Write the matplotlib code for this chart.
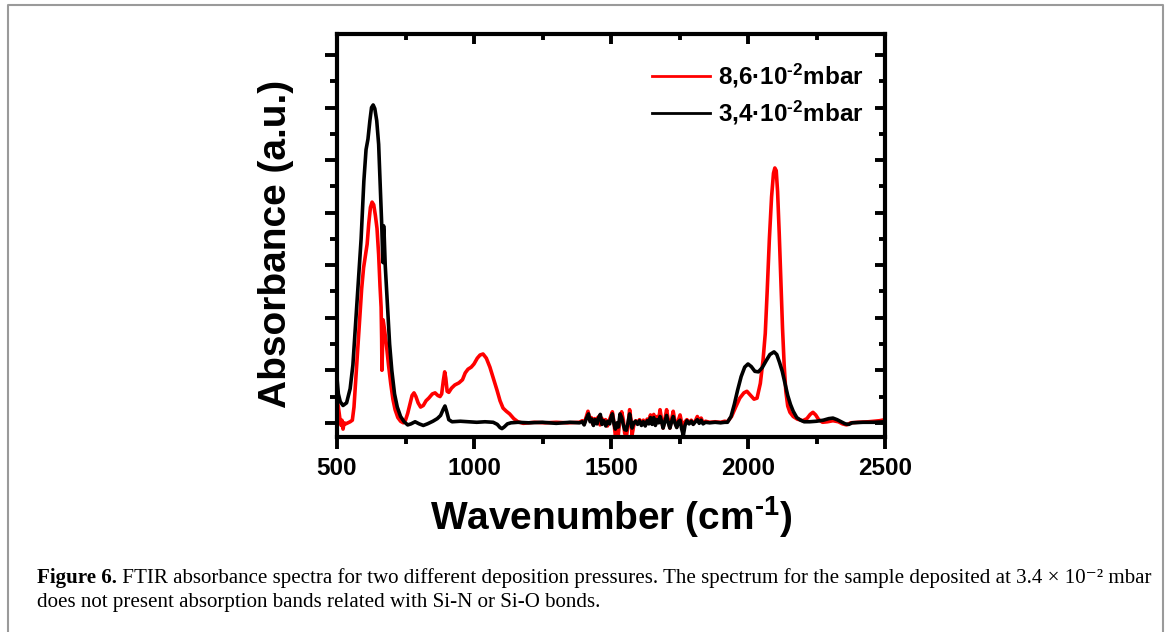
import matplotlib
matplotlib.use("Agg")
import matplotlib.pyplot as plt
from matplotlib.ticker import MultipleLocator, NullFormatter
from matplotlib.lines import Line2D

plt.rcParams['mathtext.fontset'] = 'custom'
plt.rcParams['mathtext.rm'] = 'Liberation Sans:bold'
plt.rcParams['mathtext.bf'] = 'Liberation Sans:bold'
plt.rcParams['mathtext.it'] = 'Liberation Sans:bold'
plt.rcParams['mathtext.sf'] = 'Liberation Sans:bold'

# ---------------- data ----------------
red_label = r"8,6·10$^{\text{-2}}$mbar"
black_label = r"3,4·10$^{\text{-2}}$mbar"

red_x = [500, 505, 510, 515, 518, 522, 526, 532, 540, 548, 556, 562, 568, 575, 583, 590, 597, 604, 610, 616,
         622, 628, 634, 640, 646, 652, 657, 661, 663, 664, 666, 668, 670, 674, 680, 688, 696, 704, 712, 722,
         732, 742, 750, 758, 766, 774, 781, 788, 796, 805, 815, 825, 835, 848, 858, 868, 876, 882, 888, 893,
         897, 902, 908, 918, 930, 945, 958, 968, 978, 990, 1000, 1012, 1022, 1033, 1045, 1058, 1070, 1084, 1095, 1106,
         1118, 1130, 1145, 1160, 1180, 1220, 1260, 1300, 1340, 1385,
         1395, 1402, 1410, 1416, 1422, 1428, 1434, 1440, 1447, 1453, 1460, 1466, 1472, 1480, 1487, 1494, 1500, 1505,
         1511, 1516, 1521, 1526, 1532, 1539, 1545, 1550, 1556, 1562, 1568, 1573, 1577, 1583, 1590, 1597, 1604, 1611,
         1618, 1625, 1632, 1638, 1644, 1650, 1656, 1662, 1668, 1674, 1679, 1685, 1690, 1697, 1703, 1709, 1715, 1721,
         1727, 1733, 1740, 1746, 1752, 1758, 1764, 1770, 1777, 1785, 1793, 1800, 1808, 1815, 1822, 1829, 1836, 1845,
         1860, 1880, 1900, 1915,
         1925, 1940, 1955, 1970, 1985, 1996, 2008, 2022, 2033, 2045, 2055, 2063, 2070, 2078, 2086, 2093, 2098, 2103,
         2108, 2114, 2120, 2126, 2132, 2138, 2145, 2153, 2165, 2180, 2200, 2215, 2227, 2237, 2247, 2258, 2272, 2290,
         2310, 2330, 2345, 2360, 2375, 2400, 2440, 2480, 2500]
red_y = [0.45, 0.30, 0.10, -0.05, 0.05, -0.12, 0.00, -0.02, 0.00, 0.02, 0.05, 0.30, 0.80, 1.35, 2.00, 2.55, 2.95, 3.20, 3.40, 3.80,
         4.10, 4.20, 4.15, 3.95, 3.70, 3.20, 2.60, 2.20, 1.60, 1.00, 1.40, 1.96, 1.90, 1.75, 1.50, 1.10, 0.75, 0.45, 0.25, 0.10,
         0.03, 0.00, 0.05, 0.18, 0.35, 0.52, 0.57, 0.50, 0.38, 0.30, 0.33, 0.42, 0.47, 0.55, 0.57, 0.52, 0.50, 0.55, 0.80, 0.97,
         0.85, 0.60, 0.58, 0.66, 0.72, 0.76, 0.82, 0.95, 1.02, 1.06, 1.12, 1.23, 1.29, 1.31, 1.23, 1.06, 0.86, 0.62, 0.42, 0.28,
         0.22, 0.17, 0.08, 0.02, -0.01, 0.01, 0.00, 0.01, 0.00, 0.01,
         0.04, -0.02, 0.12, 0.22, 0.05, 0.10, -0.03, 0.08, 0.02, 0.11, -0.04, 0.09, 0.00, 0.06, -0.06, 0.05, 0.14, 0.21,
         0.00, -0.25, -0.18, -0.26, 0.05, 0.21, 0.05, -0.20, -0.27, -0.05, 0.25, 0.05, -0.23, -0.05, 0.04, 0.00, 0.06, -0.02,
         0.05, -0.04, 0.07, 0.02, 0.15, 0.00, 0.16, -0.02, 0.12, 0.05, 0.25, 0.05, -0.10, 0.08, 0.25, 0.05, -0.10, 0.06,
         0.22, 0.04, -0.08, 0.05, 0.15, 0.00, -0.12, 0.02, 0.06, 0.00, 0.05, -0.02, 0.04, 0.12, 0.02, 0.09, 0.00, 0.03,
         0.01, 0.02, 0.01, 0.03,
         0.02, 0.12, 0.30, 0.47, 0.57, 0.60, 0.53, 0.45, 0.47, 0.75, 1.20, 1.70, 2.50, 3.50, 4.30, 4.75, 4.85, 4.80,
         4.40, 3.60, 2.70, 1.80, 1.10, 0.60, 0.32, 0.20, 0.12, 0.07, 0.04, 0.08, 0.16, 0.20, 0.15, 0.06, 0.01, 0.02,
         0.04, 0.02, -0.02, -0.04, 0.00, 0.01, 0.02, 0.04, 0.06]

black_x = [500, 505, 512, 522, 535, 548, 558, 568, 578, 588, 598, 606, 613, 620, 626, 632, 638, 645, 652, 658,
           663, 666, 668, 670, 672, 676, 684, 692, 700, 710, 720, 732, 745, 758, 770, 785, 800, 815, 830, 850,
           866, 878, 888, 894, 900, 908, 920, 950, 980, 1010, 1040, 1070, 1085, 1095, 1102, 1110, 1122, 1135, 1160, 1200,
           1250, 1300, 1350, 1385,
           1395, 1402, 1410, 1418, 1424, 1430, 1436, 1442, 1449, 1455, 1461, 1467, 1474, 1481, 1488, 1495, 1500, 1505,
           1511, 1516, 1522, 1527, 1533, 1539, 1545, 1550, 1556, 1562, 1568, 1573, 1577, 1583, 1590, 1597, 1604, 1611,
           1618, 1625, 1632, 1638, 1644, 1650, 1656, 1662, 1668, 1674, 1679, 1685, 1690, 1697, 1703, 1709, 1715, 1721,
           1727, 1733, 1740, 1746, 1752, 1758, 1764, 1770, 1777, 1785, 1793, 1800, 1808, 1815, 1822, 1829, 1836, 1845,
           1860, 1880, 1900, 1915,
           1925, 1938, 1950, 1962, 1975, 1988, 2000, 2012, 2025, 2038, 2052, 2066, 2080, 2095, 2105, 2115, 2125, 2135,
           2145, 2155, 2165, 2178, 2192, 2205, 2225, 2250, 2275, 2295, 2310, 2325, 2340, 2355, 2368, 2380, 2420, 2460, 2500]
black_y = [0.85, 0.55, 0.40, 0.33, 0.38, 0.65, 1.10, 1.90, 2.70, 3.50, 4.60, 5.20, 5.40, 5.75, 6.00, 6.05, 5.98, 5.75, 5.30, 4.50,
           3.80, 3.30, 3.05, 3.75, 3.60, 3.00, 2.25, 1.50, 1.00, 0.55, 0.30, 0.12, 0.02, -0.04, -0.02, 0.02, -0.02, -0.05, -0.02, 0.03,
           0.08, 0.14, 0.26, 0.32, 0.22, 0.06, 0.02, 0.03, 0.02, 0.01, 0.02, 0.01, -0.03, -0.09, -0.11, -0.08, -0.02, 0.00, 0.01, 0.00,
           0.01, -0.01, 0.01, 0.00,
           0.02, -0.04, 0.08, 0.17, 0.02, 0.07, -0.05, 0.06, -0.02, 0.10, 0.16, -0.03, 0.04, -0.06, 0.03, -0.02, 0.10, 0.17,
           -0.02, -0.12, 0.00, -0.08, 0.17, 0.10, -0.04, -0.13, -0.14, 0.00, 0.17, 0.02, -0.10, 0.00, 0.03, -0.03, 0.04, -0.05,
           0.02, -0.06, 0.04, -0.02, 0.10, -0.03, 0.10, -0.05, 0.06, 0.00, 0.12, 0.02, -0.10, 0.03, 0.14, 0.00, -0.10, 0.02,
           0.12, 0.00, -0.09, 0.02, 0.05, -0.12, -0.24, -0.05, 0.04, -0.02, 0.03, -0.03, 0.02, 0.06, -0.01, 0.05, -0.02, 0.01,
           0.00, 0.01, 0.00, 0.01,
           0.01, 0.12, 0.35, 0.62, 0.88, 1.06, 1.12, 1.07, 0.98, 0.97, 1.05, 1.18, 1.30, 1.35, 1.30, 1.15, 0.98, 0.75,
           0.52, 0.35, 0.22, 0.10, 0.05, 0.02, 0.02, 0.03, 0.05, 0.08, 0.09, 0.06, 0.02, -0.02, -0.03, 0.00, 0.01, 0.01, 0.02]

x_ticks = [500, 1000, 1500, 2000, 2500]
x_tick_labels = ["500", "1000", "1500", "2000", "2500"]

# ---------------- figure ----------------
W, H = 1171, 632
fig = plt.figure(figsize=(W / 100, H / 100), dpi=100)

def fx(px):
    return px / W

def fy(py):
    return 1 - py / H

L, R, T, B = 337, 885, 34, 437
ax = fig.add_axes([fx(L), fy(B), (R - L) / W, (B - T) / H])

lw = 2.6
ax.plot(red_x, red_y, color="#ff0000", lw=lw, label=red_label, solid_joinstyle="round")
ax.plot(black_x, black_y, color="#000000", lw=lw, label=black_label, solid_joinstyle="round")

ax.set_xlim(500, 2500)
ax.set_ylim(-0.27, 7.4)

for s in ax.spines.values():
    s.set_linewidth(3.0)

ax.set_xticks(x_ticks)
ax.set_xticklabels(x_tick_labels, fontsize=17.5, fontweight="bold", family="Liberation Sans")
ax.xaxis.set_minor_locator(MultipleLocator(250))
ax.yaxis.set_major_locator(MultipleLocator(1))
ax.yaxis.set_minor_locator(MultipleLocator(0.5))
ax.yaxis.set_major_formatter(NullFormatter())
ax.tick_params(which="major", direction="out", length=8.5, width=2.8, pad=6, top=False, right=False)
ax.tick_params(which="minor", direction="out", length=5, width=2.8, top=False, right=False)

# mirrored inward ticks on top and right
ax2 = fig.add_axes(ax.get_position(), frameon=False)
ax2.set_xlim(ax.get_xlim())
ax2.set_ylim(ax.get_ylim())
ax2.xaxis.tick_top()
ax2.yaxis.tick_right()
ax2.set_xticks(x_ticks)
ax2.xaxis.set_minor_locator(MultipleLocator(250))
ax2.yaxis.set_major_locator(MultipleLocator(1))
ax2.yaxis.set_minor_locator(MultipleLocator(0.5))
ax2.xaxis.set_major_formatter(NullFormatter())
ax2.yaxis.set_major_formatter(NullFormatter())
ax2.tick_params(which="major", direction="in", length=7, width=2.8)
ax2.tick_params(which="minor", direction="in", length=4.5, width=2.8)
ax2.patch.set_visible(False)

leg = ax.legend(loc="upper left", bbox_to_anchor=(fx(652), fy(62)), bbox_transform=fig.transFigure,
                frameon=False, borderpad=0, borderaxespad=0, handlelength=2.4, handletextpad=0.3,
                labelspacing=0.35, prop={"family": "Liberation Sans", "weight": "bold", "size": 17.5})
for h in leg.get_lines():
    h.set_linewidth(2.0)

fig.text(fx(276), fy(244), "Absorbance (a.u.)", rotation=90, ha="center", va="center",
         fontsize=28, fontweight="bold", family="Liberation Sans")
fig.text(fx(611), fy(517), r"Wavenumber (cm$^{\text{-1}}$)", ha="center", va="center",
         fontsize=28, fontweight="bold", family="Liberation Sans")

# caption
cap_size = 15.1
serif = ["Liberation Serif", "DejaVu Serif"]
t1 = fig.text(fx(37), fy(578), "Figure 6.", ha="left", va="center",
              fontsize=cap_size, fontweight="bold", family=serif)
rest1 = (" FTIR absorbance spectra for two different deposition pressures. The spectrum for the sample "
         "deposited at 3.4 \u00d7 10\u207b\u00b2 mbar")
fig.canvas.draw()
bb = t1.get_window_extent()
fig.text(bb.x1 / W, fy(578), rest1, ha="left", va="center", fontsize=cap_size, family=serif)
fig.text(fx(37), fy(603), "does not present absorption bands related with Si-N or Si-O bonds.",
         ha="left", va="center", fontsize=cap_size, family=serif)

# page frame
frame = Line2D([fx(8), fx(8), fx(1163), fx(1163)], [fy(650), fy(5), fy(5), fy(650)],
               transform=fig.transFigure, color="#9a9a9a", lw=1.5)
fig.add_artist(frame)

fig.savefig("out.png", dpi=100)
